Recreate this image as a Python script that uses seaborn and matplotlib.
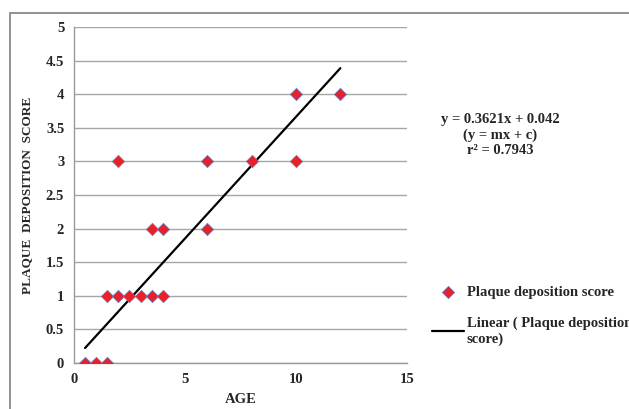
import matplotlib
matplotlib.use("Agg")
import matplotlib.pyplot as plt
import seaborn as sns
import pandas as pd
from matplotlib.patches import Rectangle

# data
age = [0.5, 1, 1.5, 1.5, 2, 2, 2.5, 3, 3.5, 3.5, 4, 4, 6, 6, 8, 10, 10, 12]
score = [0, 0, 0, 1, 1, 3, 1, 1, 1, 2, 1, 2, 3, 2, 3, 4, 3, 4]
slope = 0.3621
intercept = 0.042
x_ticks = [0, 5, 10, 15]
y_ticks = [0, 0.5, 1, 1.5, 2, 2.5, 3, 3.5, 4, 4.5, 5]

sns.set_style("white")
plt.rcParams["font.family"] = ["Liberation Serif", "DejaVu Serif"]
plt.rcParams["font.weight"] = "bold"

df = pd.DataFrame({"AGE": age, "SCORE": score})
xs = [min(age), max(age)]
trend = pd.DataFrame({"x": xs, "y": [slope * v + intercept for v in xs]})

fig = plt.figure(figsize=(6.29, 4.09), dpi=100)
ax = fig.add_axes([0.1176, 0.1125, 0.5294, 0.8215])

sns.lineplot(data=trend, x="x", y="y", ax=ax, color="black", linewidth=1.6,
             label="Linear ( Plaque deposition\nscore)", zorder=2)
sns.scatterplot(data=df, x="AGE", y="SCORE", ax=ax, marker="D", s=40,
                color="#e8202a", edgecolor="#6a7fc0", linewidth=0.5,
                label="Plaque deposition score", zorder=3)

ax.set_xlim(0, 15)
ax.set_ylim(0, 5)
ax.set_xticks(x_ticks)
ax.set_yticks(y_ticks)
ax.set_yticklabels([f"{v:g}" for v in y_ticks])
ax.yaxis.grid(True, color="#a6a6a6", linewidth=1.0)
ax.set_axisbelow(True)
for s in ["top", "right"]:
    ax.spines[s].set_visible(False)
for s in ["left", "bottom"]:
    ax.spines[s].set_color("#9a9a9a")
    ax.spines[s].set_linewidth(1.0)
ax.tick_params(axis="both", which="major", direction="out", length=4,
               color="#9a9a9a", labelsize=10.5, pad=3)
for lbl in ax.get_xticklabels() + ax.get_yticklabels():
    lbl.set_fontweight("bold")

ax.set_xlabel("AGE", fontsize=10.5, fontweight="bold", labelpad=5)
ax.set_ylabel("PLAQUE  DEPOSITION  SCORE", fontsize=9.5, fontweight="bold", labelpad=9)

# legend: scatter first, then line
h, l = ax.get_legend_handles_labels()
leg = ax.legend([h[1], h[0]], [l[1], l[0]], loc="upper left",
                bbox_to_anchor=(0.677, 0.315), bbox_transform=fig.transFigure,
                frameon=False, prop={"size": 10.5, "weight": "bold"},
                handlelength=2.2, handletextpad=0.2, labelspacing=1.2,
                borderaxespad=0)

fig.text(0.795, 0.67, "y = 0.3621x + 0.042\n(y = mx + c)\nr² = 0.7943",
         ha="center", va="center", fontsize=10.5, fontweight="bold",
         linespacing=1.25)

# outer frame around the chart area
fig.patches.append(Rectangle((10 / 629, -0.1), 1.2, 1.1 - 13 / 409,
                             transform=fig.transFigure, fill=False,
                             edgecolor="#7f7f7f", linewidth=1.2))

fig.savefig("out.png", dpi=100, facecolor="white")
